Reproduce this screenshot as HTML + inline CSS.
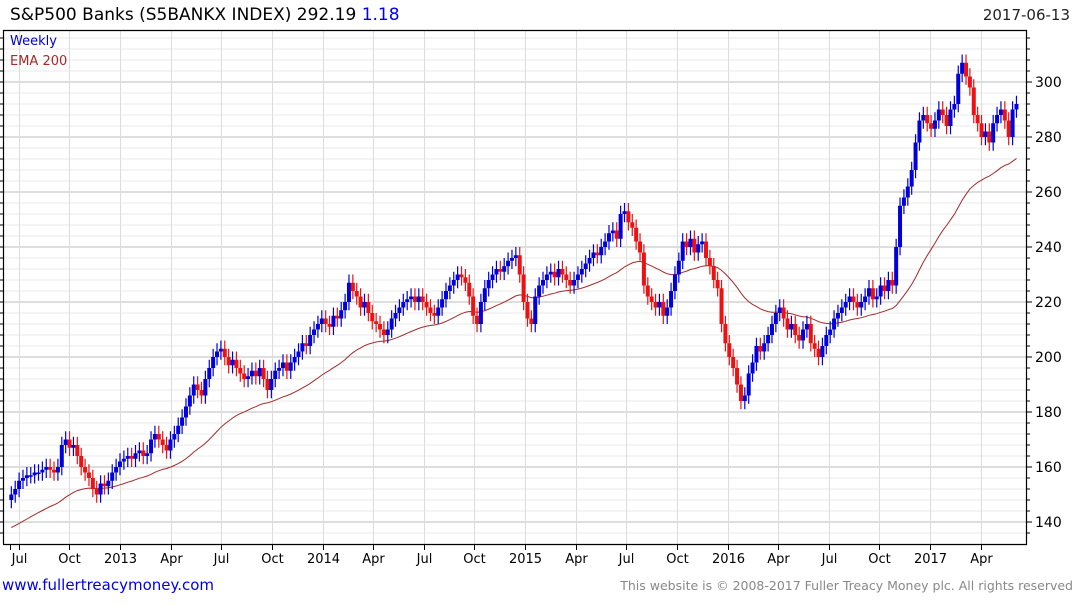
<!DOCTYPE html>
<html><head><meta charset="utf-8"><style>
body{margin:0;background:#fff;width:1075px;height:600px;overflow:hidden;font-family:"Liberation Sans","DejaVu Sans",sans-serif}
svg text{font-family:"DejaVu Sans","Liberation Sans",sans-serif}
</style></head><body>
<svg id="c" width="1075" height="600" xmlns="http://www.w3.org/2000/svg"></svg>
<script>
const closes=[150,152,155,156,157,157,158,158,159,160,159,158,160,168,
170,167,168,164,160,158,156,152,150,154,153,155,158,
160,162,163,164,163,165,166,164,165,170,172,170,168,
166,170,172,175,178,182,186,190,188,186,192,196,200,
202,203,200,197,199,196,194,192,193,195,193,196,192,
188,192,195,196,198,195,198,200,202,205,204,208,210,
212,214,212,211,215,214,217,220,227,224,222,218,220,
216,213,212,210,208,210,214,216,218,220,221,222,220,
222,220,218,216,215,218,221,224,226,228,230,229,227,
222,215,212,220,225,228,230,232,231,233,235,236,237,
230,220,214,212,222,226,228,230,231,229,232,230,228,
226,228,230,232,234,236,238,237,240,242,245,246,243,
252,253,249,247,242,238,226,222,220,218,220,215,218,
224,230,235,242,240,243,238,241,242,236,233,228,225,
212,205,200,196,190,184,186,194,198,204,202,205,208,
212,216,218,214,210,212,208,206,210,212,205,203,200,
204,208,210,214,216,218,220,222,220,218,220,222,225,
221,222,226,224,228,226,240,255,258,262,268,278,286,
288,285,283,286,290,288,284,290,292,303,307,302,298,
288,285,280,282,278,285,288,290,286,280,290,292];
const firstOpen=148;
const emaSeed=138;
const yTicks=[140,160,180,200,220,240,260,280,300];
const xTickLabels=["Jul","Oct","2013","Apr","Jul","Oct","2014","Apr","Jul","Oct","2015","Apr","Jul","Oct","2016","Apr","Jul","Oct","2017","Apr"];
const xTickYears=[2012.5,2012.75,2013,2013.25,2013.5,2013.75,2014,2014.25,2014.5,2014.75,2015,2015.25,2015.5,2015.75,2016,2016.25,2016.5,2016.75,2017,2017.25];

const NS="http://www.w3.org/2000/svg",svg=document.getElementById('c');
function el(t,a,p){const e=document.createElementNS(NS,t);for(const k in a)e.setAttribute(k,a[k]);(p||svg).appendChild(e);return e;}
const L=3,R=1026,T=30,B=544;
const y=v=>82+(300-v)*2.75;
const pxYear=(930-120)/4;
const xYear=yr=>120+(yr-2013)*pxYear;
const bw=pxYear/52.18;
const xBar=i=>xYear(2013)-28*bw+i*bw;

for(let v=136;v<=316;v+=4){const Y=y(v);if(Y<T||Y>B)continue;
 const g=el('line',{x1:L,x2:R,y1:Y,y2:Y,stroke:v%20===0?'#bdbdbd':'#e8e8e8','stroke-width':1});
 
 el('line',{x1:R,x2:R+(v%20===0?6:4),y1:Y,y2:Y,stroke:'#000'});
 el('line',{x1:L,x2:L-3,y1:Y,y2:Y,stroke:'#000'});}
xTickYears.forEach((yr,i)=>{const X=Math.round(xYear(yr))+0.5;
 const g=el('line',{x1:X,x2:X,y1:T,y2:B,stroke:'#dcdcdc'});
 
 el('line',{x1:X,x2:X,y1:B,y2:B+6,stroke:'#000'});
 const t=el('text',{x:X,y:563,'font-size':13,'text-anchor':'middle',fill:'#000'});t.textContent=xTickLabels[i];
 });
el('line',{x1:10.5,x2:10.5,y1:B,y2:B+6,stroke:'#000'});
yTicks.forEach(v=>{const t=el('text',{x:1035,y:y(v)+5,'font-size':14,fill:'#000'});t.textContent=v;
 });

let e=emaSeed,pts=[];const a=2/41;
closes.forEach((c,i)=>{if(i>0)e=e+a*(c-e);pts.push(xBar(i).toFixed(1)+','+y(e).toFixed(1));});
const ema=el('polyline',{points:pts.join(' '),fill:'none',stroke:'#a52a2a','stroke-width':1});


closes.forEach((c,i)=>{const o=i?closes[i-1]:firstOpen;const up=c>=o;const col=up?'#0000dd':'#ee1111';
 const X=xBar(i),hi=Math.max(o,c)+3,lo=Math.min(o,c)-3;
 const g=el('g',{});
 el('line',{x1:X,x2:X,y1:y(hi),y2:y(lo),stroke:col,'stroke-width':1.2},g);
 el('rect',{x:X-2,y:y(Math.max(o,c)),width:4,height:Math.max(1.5,Math.abs(y(o)-y(c))),fill:col},g);});

el('path',{d:`M${L+.5},${B} V${T+.5} H${R+.5} V${B+.5} H${L}`,fill:'none',stroke:'#000','stroke-width':1.2});

function txt(x,yy,s,sz,fill,name,anchor){const t=el('text',{x:x,y:yy,'font-size':sz,fill:fill,'text-anchor':anchor||'start'});t.textContent=s;
 return t;}
const ti=txt(10,20,'',17,'#000','chart-title');
ti.innerHTML='S&amp;P500 Banks  (S5BANKX INDEX) 292.19 <tspan fill="#0000ee">1.18</tspan>';
txt(1070,20,'2017-06-13',15,'#222','chart-date','end');
txt(10,45,'Weekly',13,'#0000cc','legend-weekly');
txt(10,65,'EMA 200',13,'#a52a2a','legend-ema');
const lk=txt(2,590,'www.fullertreacymoney.com',15,'#0000ee','website-link');
txt(1073,590,'This website is © 2008-2017 Fuller Treacy Money plc. All rights reserved',12.5,'#888','copyright-notice','end');
</script>
</body></html>
